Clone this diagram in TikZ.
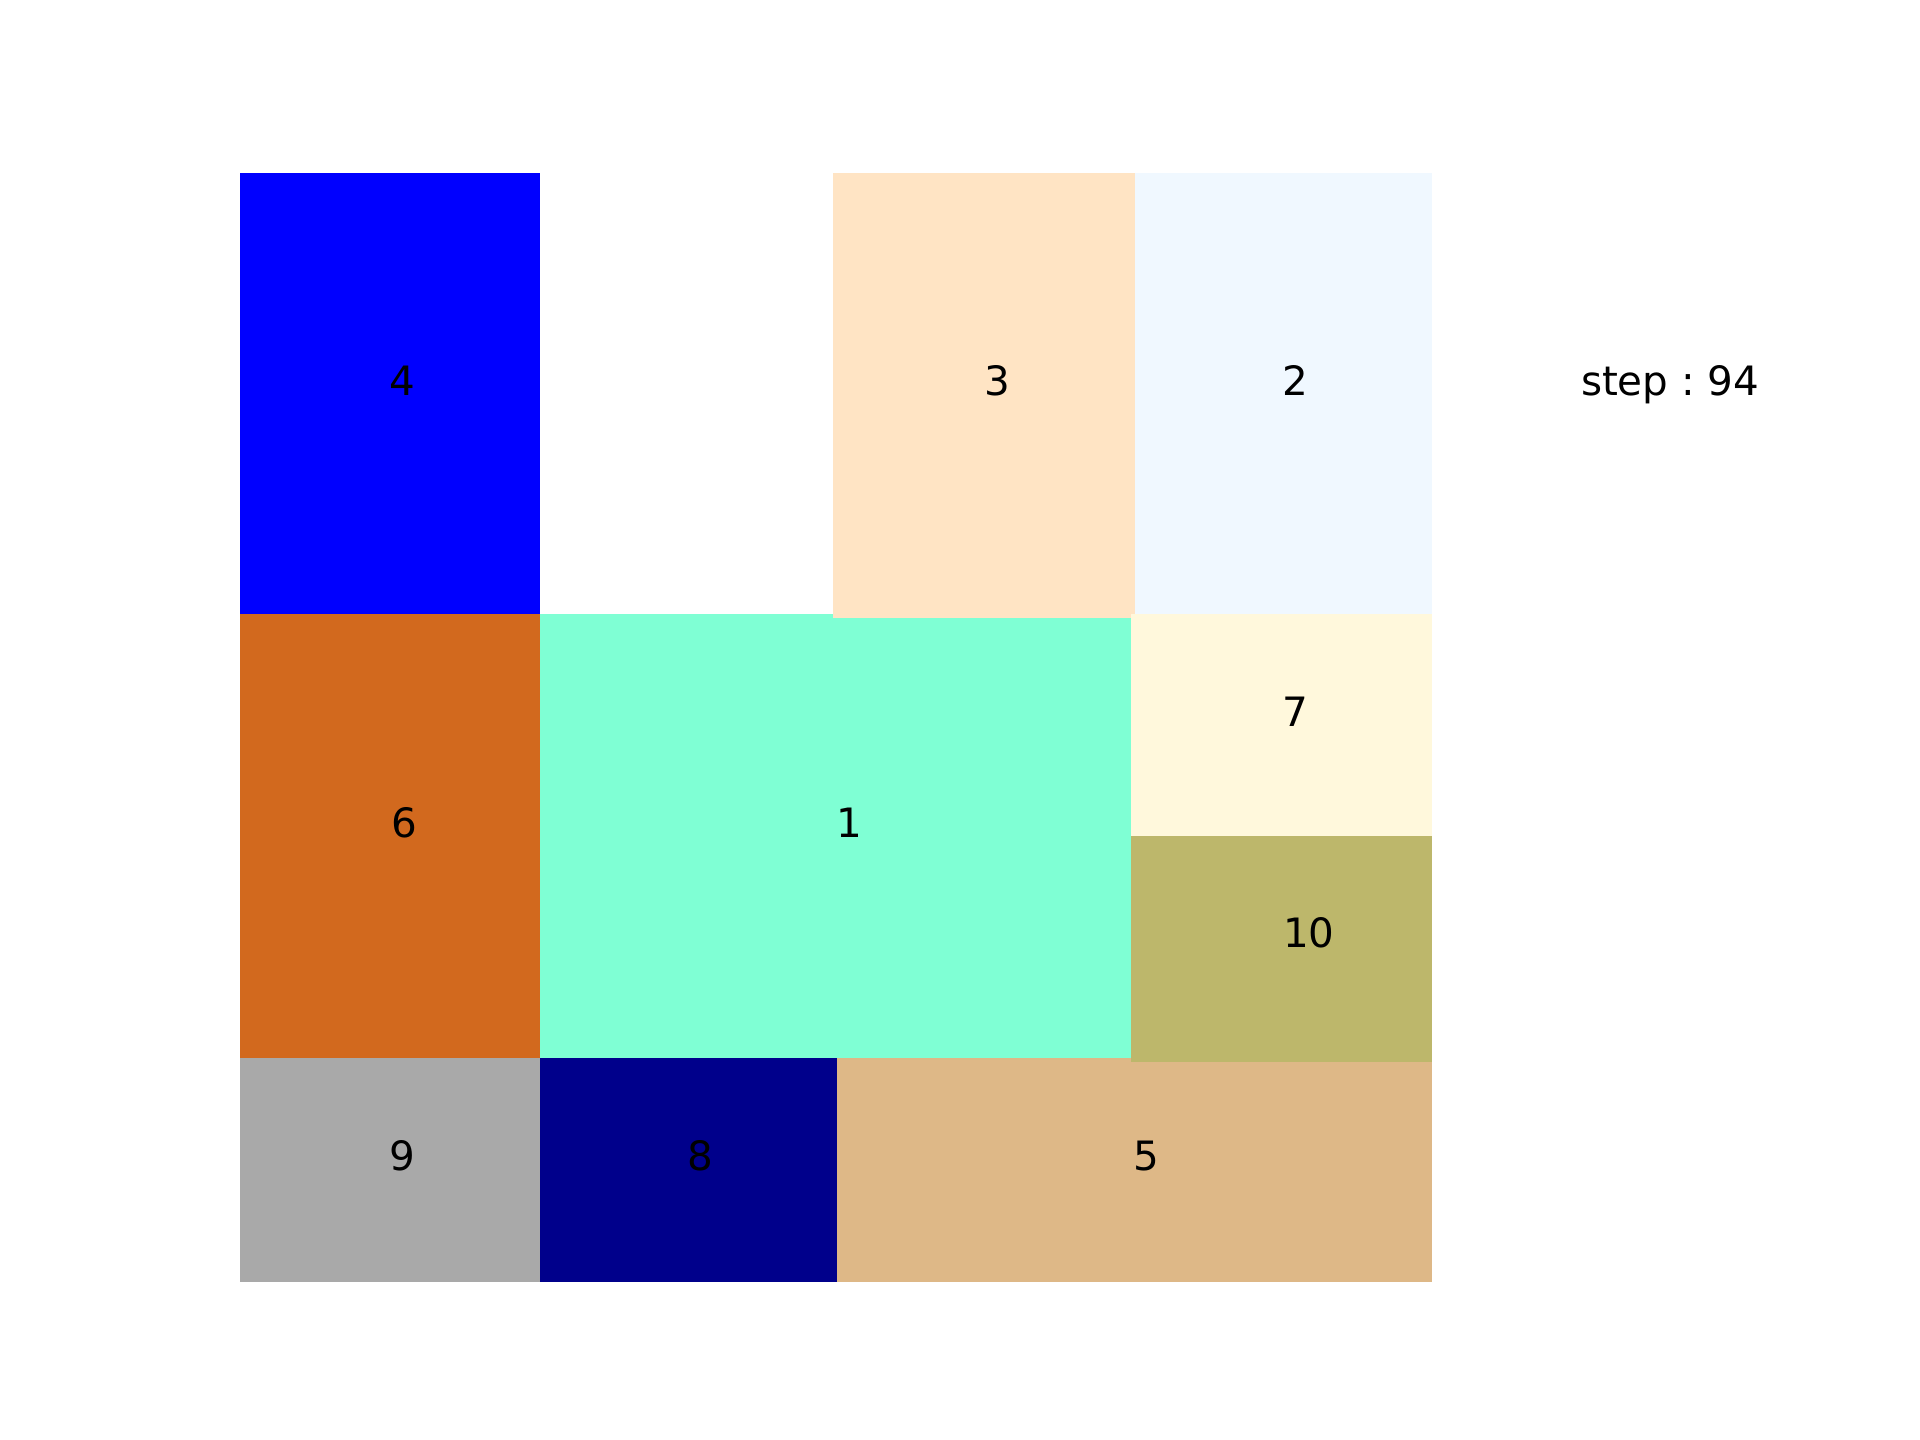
\documentclass[tikz,border=0pt]{standalone}
\usepackage{fontspec}
\setmainfont{DejaVu Sans}
\frenchspacing
\definecolor{cBlue}{RGB}{0,0,255}
\definecolor{cChoc}{RGB}{210,105,30}
\definecolor{cAqua}{RGB}{127,255,212}
\definecolor{cBisque}{RGB}{255,228,196}
\definecolor{cAlice}{RGB}{240,248,255}
\definecolor{cCorn}{RGB}{255,248,220}
\definecolor{cKhaki}{RGB}{189,183,107}
\definecolor{cGray}{RGB}{169,169,169}
\definecolor{cDBlue}{RGB}{0,0,139}
\definecolor{cBurly}{RGB}{222,184,135}
\tikzset{lbl/.style={anchor=base,inner sep=0pt,font=\fontsize{11.5}{13}\selectfont,text=black}}
\begin{document}
\begin{tikzpicture}[x=0.01cm,y=-0.01cm]
\useasboundingbox (0,0) rectangle (1920,1440);
\fill[cBlue] (240,173) rectangle (540,614);
\fill[cChoc] (240,614) rectangle (540,1058);
\fill[cGray] (240,1058) rectangle (540,1282);
\fill[cDBlue] (540,1058) rectangle (837,1282);
\fill[cBurly] (837,1058) rectangle (1432,1282);
\fill[cAqua] (540,614) rectangle (1131,1058);
\fill[cAlice] (1135,173) rectangle (1432,614);
\fill[cBisque] (833,173) rectangle (1135,618);
\fill[cCorn] (1131,614) rectangle (1432,836);
\fill[cKhaki] (1131,836) rectangle (1432,1062);
\node[lbl] (l4) at (402.5,395.6) {4};
\node[lbl] (l3) at (997.8,395.6) {3};
\node[lbl] (l2) at (1295.3,395.6) {2};
\node[lbl] (l6) at (403.9,837.7) {6};
\node[lbl] (l1) at (849.6,837.7) {1};
\node[lbl] (l7) at (1295,726.2) {7};
\node[lbl] (l10) at (1308.8,947.8) {10};
\node[lbl] (l9) at (402.6,1170.8) {9};
\node[lbl] (l8) at (700.2,1170.8) {8};
\node[lbl] (l5) at (1145.9,1170.8) {5};
\node[lbl] (step) at (1670.2,395.6) {step : 94};
\end{tikzpicture}
\end{document}
